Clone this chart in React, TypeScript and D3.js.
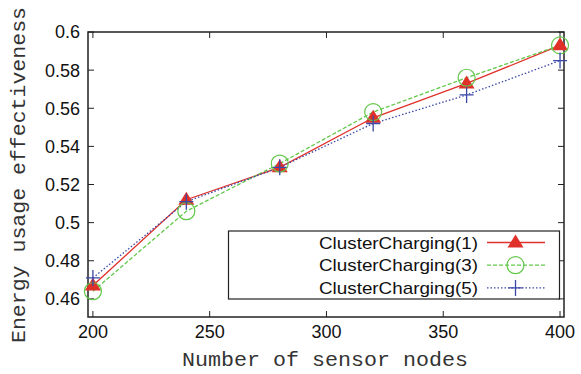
import React, { useEffect, useRef } from 'react';
import * as d3 from 'd3';

const nodes = [200, 240, 280, 320, 360, 400];
const charging1 = [0.467, 0.512, 0.529, 0.555, 0.573, 0.593];
const charging3 = [0.464, 0.506, 0.531, 0.558, 0.576, 0.593];
const charging5 = [0.471, 0.511, 0.529, 0.552, 0.567, 0.585];
const seriesNames = ['ClusterCharging(1)', 'ClusterCharging(3)', 'ClusterCharging(5)'];
const xTicks = [200, 250, 300, 350, 400];
const yTicks = [0.46, 0.48, 0.5, 0.52, 0.54, 0.56, 0.58, 0.6];

const App = () => {
  const svgRef = useRef<SVGSVGElement>(null);

  useEffect(() => {
    const svg = d3.select(svgRef.current);
    svg.selectAll('*').remove();

    const W = 581, H = 374;
    const margin = { top: 32, right: 17, bottom: 57, left: 88 };
    const x = d3.scaleLinear().domain([197.9, 401.7]).range([margin.left, W - margin.right]);
    const y = d3.scaleLinear().domain([0.4505, 0.6]).range([H - margin.bottom, margin.top]);

    const sans = '"Liberation Sans", Arial, sans-serif';
    const mono = '"Liberation Mono", "Courier New", monospace';
    const g = svg.append('g');

    // ticks (inward, on all four sides)
    const tickLen = 6;
    xTicks.forEach(t => {
      g.append('line').attr('x1', x(t)).attr('x2', x(t))
        .attr('y1', y.range()[0]).attr('y2', y.range()[0] - tickLen)
        .attr('stroke', '#222').attr('stroke-width', 1);
      g.append('line').attr('x1', x(t)).attr('x2', x(t))
        .attr('y1', y.range()[1]).attr('y2', y.range()[1] + tickLen)
        .attr('stroke', '#222').attr('stroke-width', 1);
      g.append('text').attr('x', x(t)).attr('y', 338)
        .attr('text-anchor', 'middle')
        .style('font-family', sans).style('font-size', '18px').attr('fill', '#111')
        .text(String(t));
    });
    yTicks.forEach(t => {
      g.append('line').attr('x1', x.range()[0]).attr('x2', x.range()[0] + tickLen)
        .attr('y1', y(t)).attr('y2', y(t))
        .attr('stroke', '#222').attr('stroke-width', 1);
      g.append('line').attr('x1', x.range()[1]).attr('x2', x.range()[1] - tickLen)
        .attr('y1', y(t)).attr('y2', y(t))
        .attr('stroke', '#222').attr('stroke-width', 1);
      g.append('text').attr('x', 80).attr('y', y(t)).attr('dy', '0.36em')
        .attr('text-anchor', 'end')
        .style('font-family', sans).style('font-size', '18px').attr('fill', '#111')
        .text(String(t));
    });

    // frame
    g.append('rect')
      .attr('x', x.range()[0]).attr('y', y.range()[1])
      .attr('width', x.range()[1] - x.range()[0])
      .attr('height', y.range()[0] - y.range()[1])
      .attr('fill', 'none').attr('stroke', '#222').attr('stroke-width', 1.5);

    // axis titles
    g.append('text').attr('x', 325).attr('y', 366)
      .attr('text-anchor', 'middle')
      .attr('textLength', 286).attr('lengthAdjust', 'spacingAndGlyphs')
      .style('font-family', mono).style('font-size', '20px').attr('fill', '#333')
      .text('Number of sensor nodes');
    g.append('text')
      .attr('transform', `translate(25,175) rotate(-90)`)
      .attr('text-anchor', 'middle')
      .attr('textLength', 336).attr('lengthAdjust', 'spacingAndGlyphs')
      .style('font-family', mono).style('font-size', '20px').attr('fill', '#333')
      .text('Energy usage effectiveness');

    const series = [
      { values: charging1, color: '#e0302a', dash: null, marker: 'tri' },
      { values: charging3, color: '#62c84a', dash: '4,2', marker: 'circle' },
      { values: charging5, color: '#3a48a8', dash: '1.5,2', marker: 'plus' },
    ];

    const drawMarker = (sel, kind, cx, cy, color) => {
      if (kind === 'tri') {
        sel.append('path')
          .attr('d', `M${cx},${cy - 8}L${cx + 8},${cy + 5}L${cx - 8},${cy + 5}Z`)
          .attr('fill', color);
      } else if (kind === 'circle') {
        sel.append('circle').attr('cx', cx).attr('cy', cy).attr('r', 8.5)
          .attr('fill', 'none').attr('stroke', color).attr('stroke-width', 1.2);
      } else {
        sel.append('path')
          .attr('d', `M${cx - 7},${cy}H${cx + 7}M${cx},${cy - 8}V${cy + 8}`)
          .attr('stroke', color).attr('stroke-width', 1.3).attr('fill', 'none');
      }
    };

    const line = d3.line<number>().x((d, i) => x(nodes[i])).y(d => y(d));
    series.forEach(s => {
      const p = g.append('path').attr('d', line(s.values))
        .attr('fill', 'none').attr('stroke', s.color).attr('stroke-width', 1.3);
      if (s.dash) p.attr('stroke-dasharray', s.dash);
    });
    series.forEach(s => {
      s.values.forEach((v, i) => drawMarker(g, s.marker, x(nodes[i]), y(v), s.color));
    });

    // legend
    const lg = g.append('g');
    lg.append('rect').attr('x', 228.5).attr('y', 231).attr('width', 331).attr('height', 68)
      .attr('fill', 'white').attr('stroke', '#222').attr('stroke-width', 1.2);
    seriesNames.forEach((name, i) => {
      const ly = 242.5 + i * 22.7;
      const s = series[i];
      lg.append('text').attr('x', 478).attr('y', ly).attr('dy', '0.36em')
        .attr('text-anchor', 'end')
        .attr('textLength', 159).attr('lengthAdjust', 'spacingAndGlyphs')
        .style('font-family', sans).style('font-size', '17px').attr('fill', '#111')
        .text(name);
      const l = lg.append('line').attr('x1', 487).attr('x2', 545).attr('y1', ly).attr('y2', ly)
        .attr('stroke', s.color).attr('stroke-width', 1.3);
      if (s.dash) l.attr('stroke-dasharray', s.dash);
      drawMarker(lg, s.marker, 515.5, ly, s.color);
    });
  }, []);

  return (
    <svg ref={svgRef} width={581} height={374}
      style={{ position: 'absolute', left: 0, top: 0, background: 'white' }} />
  );
};

export default App;
